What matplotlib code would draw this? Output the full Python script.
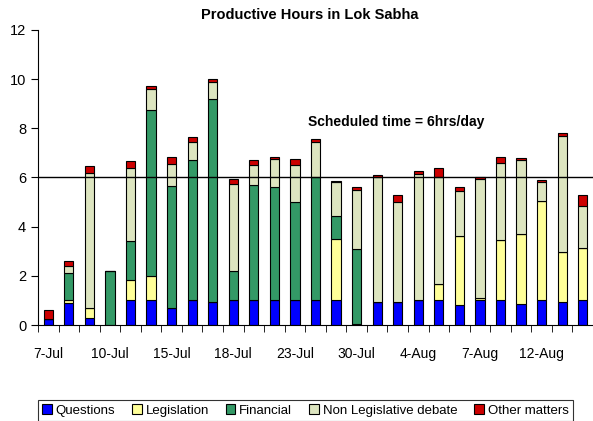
import numpy as np
import matplotlib.pyplot as plt

plt.rcParams['font.family'] = ['Liberation Sans', 'DejaVu Sans']

# Sitting days (labels only on every third bar)
dias = ['7-Jul', '', '', '10-Jul', '', '', '15-Jul', '', '', '18-Jul', '', '', '23-Jul',
        '', '', '30-Jul', '', '', '4-Aug', '', '', '7-Aug', '', '', '12-Aug', '', '']

# Hours per category
questions = [0.25, 0.9, 0.3, 0.0, 1.0, 1.0, 0.7, 1.0, 0.95, 1.0, 1.0, 1.0, 1.0, 1.0,
             1.0, 0.03, 0.95, 0.95, 1.0, 1.0, 0.8, 1.0, 1.0, 0.85, 1.0, 0.95, 1.0]
legislation = [0.0, 0.1, 0.4, 0.0, 0.85, 1.0, 0.0, 0.0, 0.0, 0.0, 0.0, 0.0, 0.0, 0.0,
               2.5, 0.0, 0.0, 0.0, 0.0, 0.65, 2.8, 0.1, 2.45, 2.85, 4.05, 2.0, 2.15]
financial = [0.0, 1.1, 0.0, 2.2, 1.55, 6.75, 4.95, 5.7, 8.25, 1.2, 4.7, 4.6, 4.0, 5.0,
             0.95, 3.07, 0.0, 0.0, 0.0, 0.0, 0.0, 0.0, 0.0, 0.0, 0.0, 0.0, 0.0]
non_leg = [0.0, 0.3, 5.5, 0.0, 3.0, 0.85, 0.9, 0.75, 0.7, 3.55, 0.8, 1.15, 1.5, 1.45,
           1.35, 2.4, 5.05, 4.05, 5.15, 4.35, 1.85, 4.85, 3.15, 3.0, 0.75, 4.75, 1.7]
otros = [0.35, 0.2, 0.25, 0.0, 0.25, 0.1, 0.3, 0.2, 0.1, 0.2, 0.2, 0.1, 0.25, 0.1,
         0.05, 0.1, 0.1, 0.3, 0.1, 0.4, 0.15, 0.05, 0.25, 0.1, 0.1, 0.1, 0.45]

series = [
    ('Questions', questions, '#0000FF'),
    ('Legislation', legislation, '#FFFF99'),
    ('Financial', financial, '#339966'),
    ('Non Legislative debate', non_leg, '#DDE5C0'),
    ('Other matters', otros, '#CC0000'),
]

fig = plt.figure(figsize=(5.93, 4.21), dpi=100)
ax = fig.add_axes([0.064, 0.228, 0.936, 0.701])

x = np.arange(len(dias))
base = np.zeros(len(dias))
for nombre, vals, color in series:
    vals = np.array(vals)
    ax.bar(x, vals, bottom=base, width=0.45, color=color, edgecolor='black',
           linewidth=0.8, label=nombre, zorder=2)
    base += vals

ax.axhline(6, color='black', linewidth=1, zorder=3)
ax.text(0.645, 0.688, 'Scheduled time = 6hrs/day', transform=ax.transAxes,
        ha='center', va='center', fontsize=10, fontweight='bold')

ax.set_xlim(-0.5, len(dias) - 0.5)
ax.set_ylim(0, 12)
ax.set_yticks(range(0, 13, 2))
ax.set_xticks(x)
ax.set_xticklabels(dias, fontsize=10)
ax.set_xticks(np.arange(-0.5, len(dias), 1), minor=True)
ax.tick_params(axis='x', which='major', length=0, pad=16)
ax.tick_params(axis='x', which='minor', length=5, direction='out')
ax.tick_params(axis='y', length=5, direction='out', labelsize=10.5)

ax.spines['top'].set_visible(False)
ax.spines['right'].set_visible(False)

ax.set_title('Productive Hours in Lok Sabha', fontsize=10.5, fontweight='bold', pad=8,
             x=0.49)

leg = fig.legend(loc='lower center', bbox_to_anchor=(0.515, -0.016), ncol=5,
                 fontsize=9.5, frameon=True, fancybox=False, edgecolor='black',
                 handlelength=0.7, handleheight=0.7, handletextpad=0.3,
                 columnspacing=1.3, borderpad=0.35)
leg.get_frame().set_linewidth(0.8)

plt.savefig('out.png', dpi=100)
